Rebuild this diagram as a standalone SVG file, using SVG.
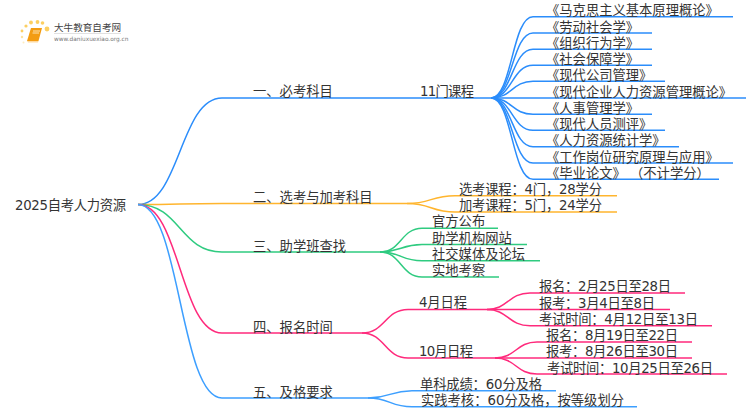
<svg xmlns="http://www.w3.org/2000/svg" width="750" height="410" viewBox="0 0 750 410">
<style>
text{font-family:"DejaVu Sans","Noto Sans CJK SC",sans-serif;font-size:13.3px;fill:#333}
#connectors path{fill:none;stroke-width:1.5}
.b{stroke:#2b8dfb}.o{stroke:#ffb52e}.g{stroke:#2fcb80}.p{stroke:#ff2a7c}.l{stroke:#3d9fff}
</style>
<rect width="750" height="410" fill="#fff"/>
<g id="connectors">
<path class="b" d="M138 204.5C180 204.5 180 98 222 98H491"/>
<path class="b" d="M491 98C512 98 512 16.7 533 16.7H733"/>
<path class="b" d="M491 98C512 98 512 33 533 33H652"/>
<path class="b" d="M491 98C512 98 512 49.3 533 49.3H652"/>
<path class="b" d="M491 98C512 98 512 65.3 533 65.3H652"/>
<path class="b" d="M491 98C512 98 512 81.3 533 81.3H665"/>
<path class="b" d="M491 98H746"/>
<path class="b" d="M491 98C512 98 512 114.3 533 114.3H652"/>
<path class="b" d="M491 98C512 98 512 130.3 533 130.3H665"/>
<path class="b" d="M491 98C512 98 512 146.7 533 146.7H679"/>
<path class="b" d="M491 98C512 98 512 163 533 163H733"/>
<path class="b" d="M491 98C512 98 512 179.3 533 179.3H719"/>
<path class="o" d="M138 204.5C180 204.5 180 203.5 222 203.5H407"/>
<path class="o" d="M407 203.5C431 203.5 431 195.7 455 195.7H617"/>
<path class="o" d="M407 203.5C431 203.5 431 212 455 212H617"/>
<path class="g" d="M138 204.5C180 204.5 180 252 222 252H380"/>
<path class="g" d="M380 252C401 252 401 228.3 422 228.3H498"/>
<path class="g" d="M380 252C401 252 401 244.6 422 244.6H527"/>
<path class="g" d="M380 252C401 252 401 260.7 422 260.7H540"/>
<path class="g" d="M380 252C401 252 401 277 422 277H499"/>
<path class="p" d="M138 204.5C180 204.5 180 333 222 333H362"/>
<path class="p" d="M362 333C385 333 385 309.5 408 309.5H487"/>
<path class="p" d="M362 333C385 333 385 358 408 358H495"/>
<path class="p" d="M487 309.5C508 309.5 508 293 530 293H685"/>
<path class="p" d="M487 309.5H670"/>
<path class="p" d="M487 309.5C508 309.5 508 325.7 530 325.7H712"/>
<path class="p" d="M495 358C516 358 516 342 537 342H692"/>
<path class="p" d="M495 358H692"/>
<path class="p" d="M495 358C516 358 516 374 537 374H727"/>
<path class="l" d="M138 204.5C180 204.5 180 398 222 398H368"/>
<path class="l" d="M368 398C390 398 390 390.7 412 390.7H556"/>
<path class="l" d="M368 398C390 398 390 406.7 412 406.7H637"/>
</g>
<g id="logo">
<g fill="#fbc02d" opacity="0.75">
<circle cx="47" cy="29" r="2.4"/><circle cx="42.5" cy="23" r="1.8"/><circle cx="37.5" cy="22" r="1.9"/><circle cx="31" cy="22.5" r="1.9"/><circle cx="26" cy="26" r="1.6"/><circle cx="22" cy="31" r="1.4"/><circle cx="22" cy="37" r="1.2" opacity=".6"/><circle cx="23.5" cy="42.5" r="1" opacity=".4"/>
</g>
<path d="M31 28H42L38.5 41H27Z" fill="#f39c12"/>
<path d="M27 41H38.5L38 42.5H28Z" fill="#fdd9a0"/>
<path d="M33 31H40M32.5 33H39" stroke="#fde3b0" stroke-width="1" fill="none"/>
<text x="54" y="31" style="font-size:9.6px;fill:#444">大牛教育自考网</text>
<path d="M54 33.5H121" stroke="#ccc" stroke-width=".6"/>
<text x="54" y="41" style="font-size:5.8px;fill:#777">www.daniuxuexiao.org.cn</text>
</g>
<g id="root"><text x="15" y="210" textLength="111">2025自考人力资源</text></g>
<g id="n1"><text x="253" y="96">一、必考科目</text></g>
<g id="n2"><text x="253" y="202">二、选考与加考科目</text></g>
<g id="n3"><text x="253" y="251">三、助学班查找</text></g>
<g id="n4"><text x="253" y="332">四、报名时间</text></g>
<g id="n5"><text x="253" y="397">五、及格要求</text></g>
<g id="n11"><text x="420" y="96" textLength="54">11门课程</text></g>
<g id="c1"><text x="546" y="15">《马克思主义基本原理概论》</text></g>
<g id="c2"><text x="546" y="32">《劳动社会学》</text></g>
<g id="c3"><text x="546" y="48">《组织行为学》</text></g>
<g id="c4"><text x="546" y="64">《社会保障学》</text></g>
<g id="c5"><text x="546" y="80">《现代公司管理》</text></g>
<g id="c6"><text x="546" y="97">《现代企业人力资源管理概论》</text></g>
<g id="c7"><text x="546" y="113">《人事管理学》</text></g>
<g id="c8"><text x="546" y="129">《现代人员测评》</text></g>
<g id="c9"><text x="546" y="145">《人力资源统计学》</text></g>
<g id="c10"><text x="546" y="162">《工作岗位研究原理与应用》</text></g>
<g id="c11"><text x="546" y="178">《毕业论文》 （不计学分）</text></g>
<g id="e1"><text x="459" y="194" textLength="143">选考课程：4门，28学分</text></g>
<g id="e2"><text x="459" y="210" textLength="143">加考课程：5门，24学分</text></g>
<g id="g1"><text x="432" y="226">官方公布</text></g>
<g id="g2"><text x="432" y="243">助学机构网站</text></g>
<g id="g3"><text x="432" y="259">社交媒体及论坛</text></g>
<g id="g4"><text x="432" y="275">实地考察</text></g>
<g id="apr"><text x="419" y="307" textLength="48">4月日程</text></g>
<g id="oct"><text x="419" y="356" textLength="54">10月日程</text></g>
<g id="a1"><text x="539" y="291" textLength="132">报名：2月25日至28日</text></g>
<g id="a2"><text x="539" y="308" textLength="116">报考：3月4日至8日</text></g>
<g id="a3"><text x="539" y="324" textLength="159">考试时间：4月12日至13日</text></g>
<g id="o1"><text x="546" y="340" textLength="132">报名：8月19日至22日</text></g>
<g id="o2"><text x="546" y="356" textLength="132">报考：8月26日至30日</text></g>
<g id="o3"><text x="547" y="373" textLength="166">考试时间：10月25日至26日</text></g>
<g id="p1"><text x="420" y="389" textLength="122">单科成绩：60分及格</text></g>
<g id="p2"><text x="421" y="405" textLength="203">实践考核：60分及格，按等级划分</text></g>
</svg>
